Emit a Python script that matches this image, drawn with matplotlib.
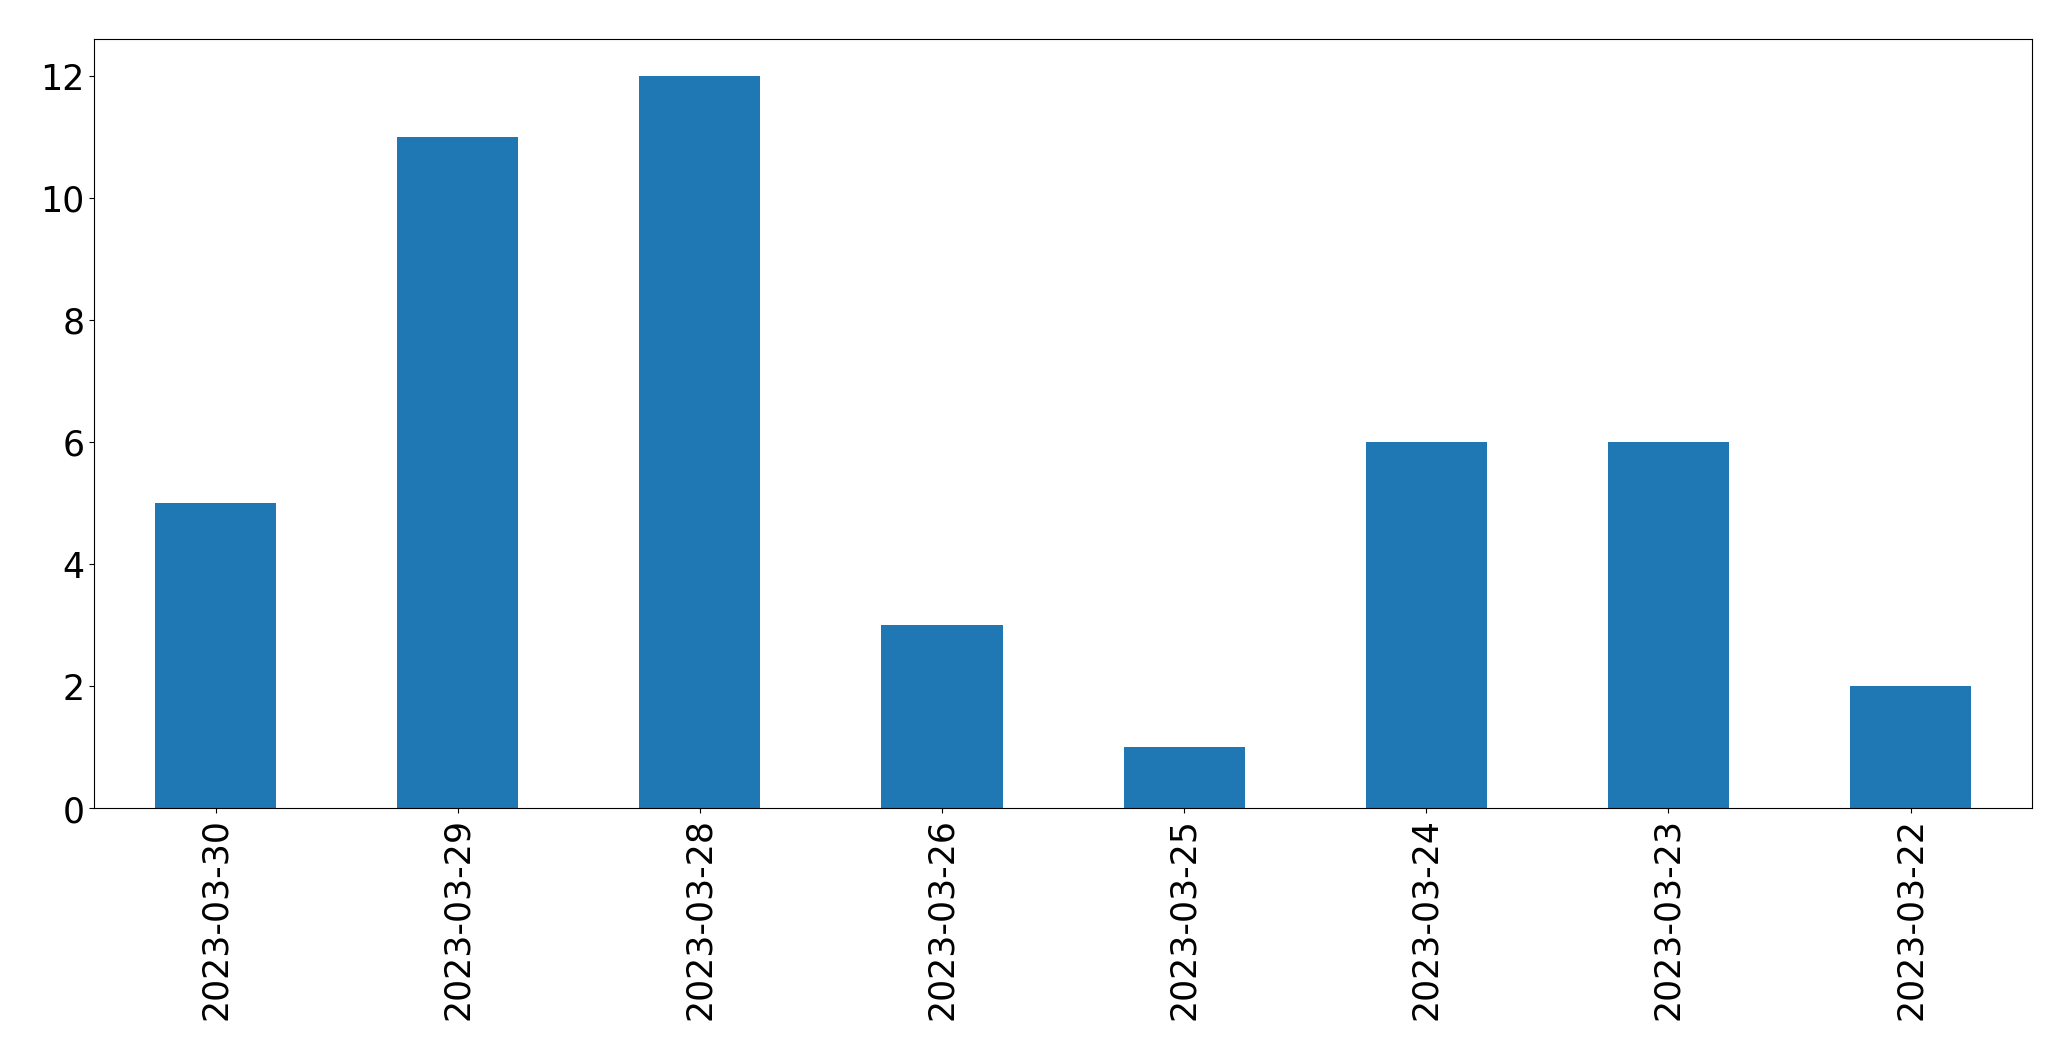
import matplotlib
matplotlib.use("Agg")
import matplotlib.pyplot as plt
import numpy as np

# dates as they appear on the x axis (newest first)
dates = ["2023-03-30", "2023-03-29", "2023-03-28", "2023-03-26",
         "2023-03-25", "2023-03-24", "2023-03-23", "2023-03-22"]
counts = [5, 11, 12, 3, 1, 6, 6, 2]


def main():
    fig = plt.figure(figsize=(20.71, 10.605), dpi=100)
    ax = fig.add_axes([0.0456, 0.2375, 0.9354, 0.7253])

    x = np.arange(len(dates))
    ax.bar(x, counts, width=0.5, color="#1f77b4")
    ax.set_xlim(-0.5, len(dates) - 0.5)
    ax.set_xticks(x)
    ax.set_xticklabels(dates, rotation=90)
    ax.tick_params(axis="both", labelsize=25)

    fig.savefig("out.png", dpi=100)


if __name__ == "__main__":
    main()
